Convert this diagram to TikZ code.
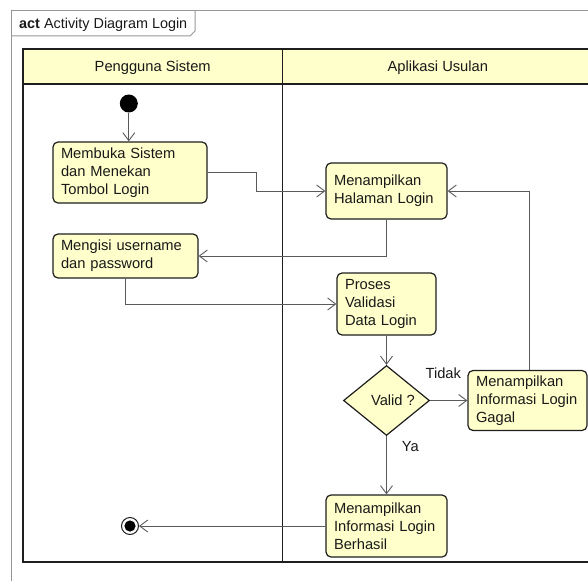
\documentclass[tikz,border=0pt]{standalone}
\usepackage{fontspec}
\setmainfont{Liberation Sans}
\usetikzlibrary{shapes.geometric,arrows.meta}
\definecolor{actfill}{RGB}{255,255,204}
\definecolor{edgegray}{RGB}{90,90,90}
\definecolor{framegray}{RGB}{150,150,150}
\definecolor{lanedark}{RGB}{30,30,30}
\definecolor{inkcol}{RGB}{25,25,25}
\begin{document}
\begin{tikzpicture}[x=1pt,y=-1pt,
  font=\fontsize{14.7}{18}\selectfont, text=inkcol,
  action/.style={draw=lanedark, line width=1.2pt, fill=actfill,
    rounded corners=5pt, inner xsep=8pt, inner ysep=0pt, align=left},
  decision/.style={diamond, draw=lanedark, line width=1.2pt, fill=actfill,
    inner sep=0pt, minimum width=86pt, minimum height=70pt},
  flow/.style={draw=edgegray, line width=0.9pt,
    -{Straight Barb[length=8pt,width=12pt,line width=0.9pt]}},
  lane/.style={draw=lanedark, line width=1.3pt},
  frameline/.style={draw=framegray, line width=1pt},
  guard/.style={inner sep=0pt}
]
\useasboundingbox (0,0) rectangle (588,580);
\clip (0,0) rectangle (588,580);

% diagram frame with its name tab
\draw[frameline] (11.5,600) -- (11.5,11) -- (600,11);
\draw[frameline] (11.5,36) -- (190,36) -- (195,31) -- (195,11);
\node[anchor=west, inner sep=0pt, font=\fontsize{14.4}{17}\selectfont] (title) at (19,24.5)
  {\textbf{act} Activity Diagram Login};

% swimlanes
\filldraw[lane, fill=actfill] (23,49) rectangle (593,84);
\draw[lane] (23,84) -- (23,562) -- (593,562) -- (593,84);
\draw[lane] (282.5,49) -- (282.5,562);
\node (laneA) at (152.75,67.5) {Pengguna Sistem};
\node (laneB) at (437.8,67.5) {Aplikasi Usulan};

% initial and final nodes
\node[circle, fill=black, minimum size=18pt, inner sep=0pt] (start) at (128.8,103.5) {};
\node[circle, draw=lanedark, line width=1pt, fill=white, minimum size=17pt, inner sep=0pt,
  path picture={\fill[black] (path picture bounding box.center) circle (5.6pt);}]
  (end) at (130,526) {};

% actions
\node[action, text width=138pt, minimum height=61pt] (open) at (130,172.5)
  {Membuka Sistem\\dan Menekan\\Tombol Login};
\node[action, text width=105pt, minimum height=56pt] (halaman) at (386.5,191)
  {Menampilkan\\Halaman Login};
\node[action, text width=129pt, minimum height=44pt] (isi) at (125.5,256)
  {Mengisi username\\dan password};
\node[action, text width=83pt, minimum height=62pt] (proses) at (386.5,304)
  {Proses\\Validasi\\Data Login};
\node[decision] (valid) at (386.5,400.5) {\hspace*{13pt}Valid ?};
\node[action, text width=103pt, minimum height=60pt] (gagal) at (527.5,400.5)
  {Menampilkan\\Informasi Login\\Gagal};
\node[action, text width=105pt, minimum height=62pt] (berhasil) at (386.5,526)
  {Menampilkan\\Informasi Login\\Berhasil};

% guards
\node[guard] (tidak) at (443.3,373.3) {Tidak};
\node[guard] (ya) at (410.3,446.5) {Ya};

% control flows
\draw[flow] (start.south) -- (start.south |- open.north);
\draw[flow] (open.east) -- ++(49,0) |- (halaman.west);
\draw[flow] (halaman.south) |- (isi.east);
\draw[flow] (isi.south) |- (proses.west);
\draw[flow] (proses.south) -- (valid.north);
\draw[flow] (valid.east) -- (gagal.west);
\draw[flow] ([xshift=1.8pt]gagal.north) |- (halaman.east);
\draw[flow] (valid.south) -- (berhasil.north);
\draw[flow] (berhasil.west) -- (end.east);
\end{tikzpicture}
\end{document}
